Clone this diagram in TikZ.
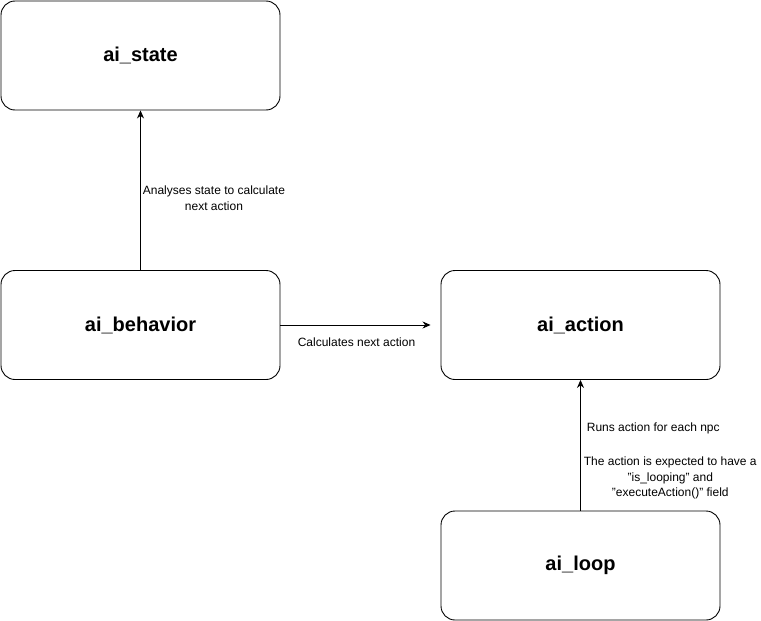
\documentclass[tikz,border=0pt]{standalone}
\usepackage{fontspec}
\setmainfont{Liberation Sans}
\usetikzlibrary{arrows.meta,positioning}

\tikzset{
  aibox/.style={draw, rounded corners=14pt, minimum width=279pt, minimum height=109pt,
    line width=0.9pt, font=\fontsize{20}{24}\selectfont\bfseries},
  flow/.style={-{Stealth[length=8pt,width=7pt]}, line width=0.8pt},
  lbl/.style={font=\fontsize{12}{15.5}\selectfont, align=center, inner sep=2pt}
}

\begin{document}
\begin{tikzpicture}[x=1pt,y=-1pt]
  \useasboundingbox (0,0) rectangle (761,621);
  \node[aibox] (state) at (140.5,55.5) {ai\_state};
  \node[aibox] (behavior) at (140.5,325) {ai\_behavior};
  \node[aibox] (action) at (580.5,325) {ai\_action};
  \node[aibox] (loop) at (580.5,565.5) {ai\_loop};
  % arrows between the parts
  \draw[flow] (behavior) -- node[lbl, right, yshift=-8pt] {Analyses state to calculate\\next action} (state);
  \draw[flow, shorten >=10pt] (behavior) -- node[lbl, below, xshift=-4pt, yshift=-10pt] {Calculates next action} (action);
  \draw[flow] (loop) --
    node[lbl, pos=0.63, anchor=west, xshift=4pt] {Runs action for each npc}
    node[lbl, pos=0.25, anchor=west, xshift=1pt] {The action is expected to have a\\"is\_looping" and\\"executeAction()" field}
    (action);
\end{tikzpicture}
\end{document}
